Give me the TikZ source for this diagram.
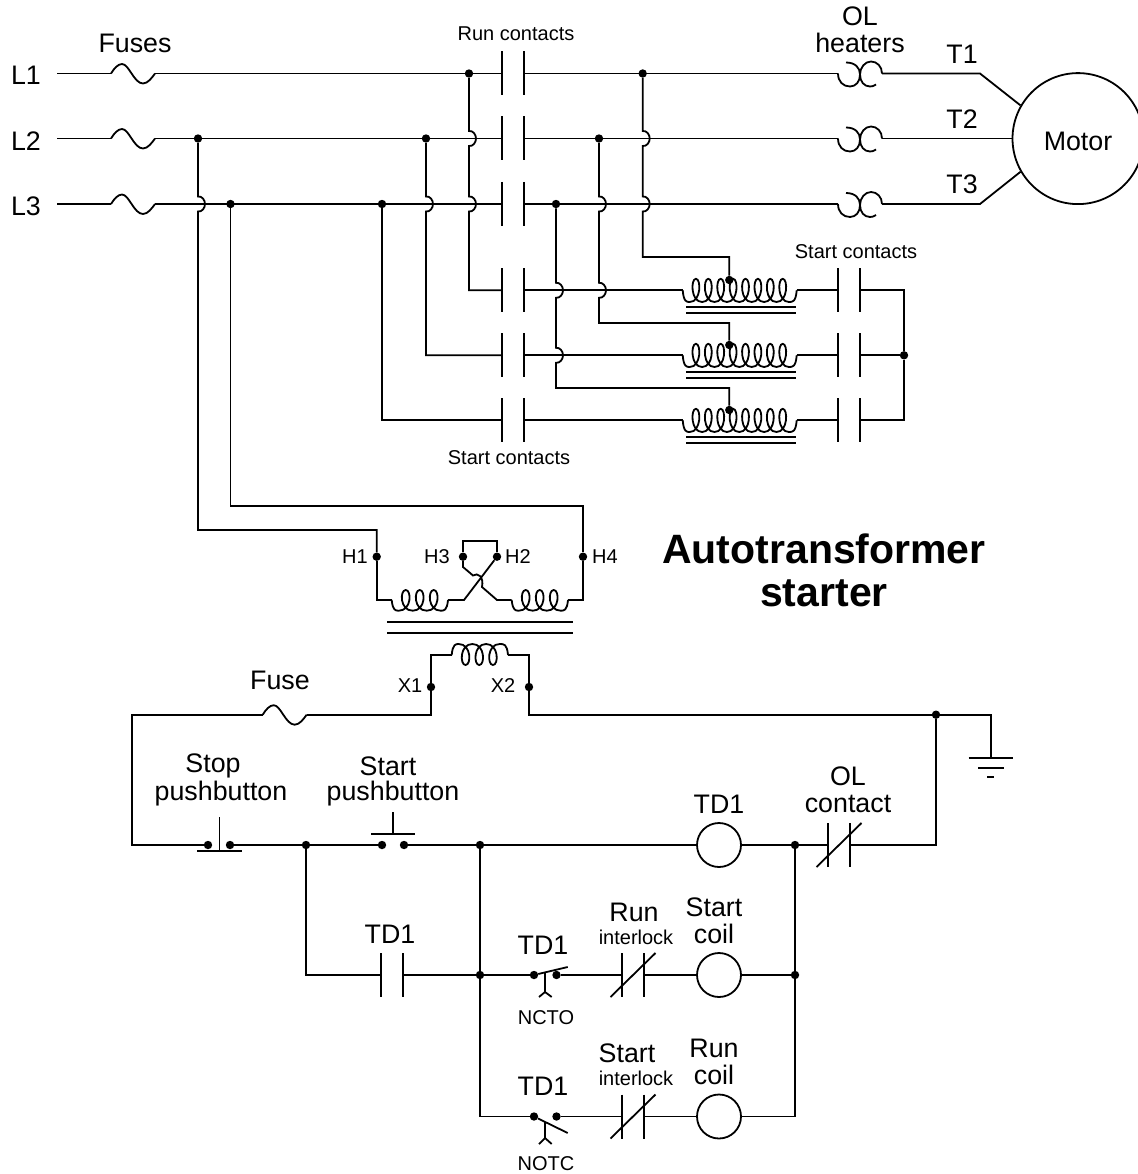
\documentclass[tikz,border=0pt]{standalone}
\usepackage{fontspec}
\setmainfont{Liberation Sans}
\usetikzlibrary{calc}
\tikzset{
	wire/.style={line width=1.8pt, line join=miter, black},
	dot/.style={circle, fill=black, inner sep=0pt, minimum size=8.4pt},
	lab/.style={inner sep=0pt, align=center, font=\fontsize{26.8}{26.5}\selectfont},
	smalllab/.style={inner sep=0pt, align=center, font=\fontsize{20}{22}\selectfont},
	coilc/.style={draw, line width=1.8pt, circle, inner sep=0pt, minimum size=44pt}
}
\def\hop(#1,#2){-- (#1,#2-7.5) .. controls (#1+4,#2-8) and (#1+7,#2-4) .. (#1+7,#2) .. controls (#1+7,#2+4) and (#1+4,#2+8) .. (#1,#2+7.5)}
\def\fuse#1(#2,#3){\coordinate (#1-l) at (#2,#3); \coordinate (#1-r) at (#2+44,#3);
	\draw[wire] (#2,#3) .. controls (#2+3,#3-5) and (#2+7,#3-9.5) .. (#2+11,#3-9.5) .. controls (#2+18,#3-9.5) and (#2+23,#3+10) .. (#2+32,#3+10) .. controls (#2+37,#3+10) and (#2+41,#3+4) .. (#2+44,#3);}
\def\contact#1(#2,#3){\coordinate (#1-l) at (#2,#3); \coordinate (#1-r) at (#2+22,#3);
	\draw[wire] (#2,#3-22) -- (#2,#3+22);
	\draw[wire] (#2+22,#3-22) -- (#2+22,#3+22);}
\def\nccontact#1(#2,#3){\contact#1(#2,#3)
	\draw[wire] (#2-11.5,#3+22) -- (#2+33.5,#3-22);}
\def\heater#1(#2,#3){\coordinate (#1-l) at (#2,#3); \coordinate (#1-r) at (#2+44,#3);
	\draw[wire] (#2,#3) .. controls (#2,#3+8) and (#2+5,#3+13) .. (#2+12,#3+13) .. controls (#2+18,#3+13) and (#2+22,#3+8) .. (#2+22,#3+1) .. controls (#2+22,#3-6) and (#2+17,#3-11) .. (#2+8,#3-11);
	\draw[wire] (#2+38,#3+11) .. controls (#2+36,#3+12.5) and (#2+34,#3+13) .. (#2+32,#3+13) .. controls (#2+26,#3+13) and (#2+22,#3+8) .. (#2+22,#3+1) .. controls (#2+22,#3-6) and (#2+27,#3-12) .. (#2+33,#3-12) .. controls (#2+39,#3-12) and (#2+44,#3-7) .. (#2+44,#3);}
% name, x start, x end, y, turns, pitch, y of bottom, y of top
\def\winding#1#2#3#4#5#6#7#8{\coordinate (#1-l) at (#2,#4); \coordinate (#1-r) at (#3,#4);
	\draw[wire] (#2,#4) .. controls (#2+1,#7) and (#2+4,#7) .. (#2+7,#7)
		\foreach \i in {1,...,#5} {
			.. controls (#2+7+\i*#6-0.07*#6,#7) and (#2+7+\i*#6-0.07*#6,#8) .. (#2+7+\i*#6-0.5*#6,#8)
			.. controls (#2+7+\i*#6-0.93*#6,#8) and (#2+7+\i*#6-0.93*#6,#7) .. (#2+7+\i*#6,#7)
		}
		.. controls (#3-4,#7) and (#3-1,#7) .. (#3,#4);}
\def\tapcoil#1(#2,#3){\winding{#1}{#2}{#2+114}{#3}{8}{12.4}{#3+11.7}{#3-11.5}
	\draw[wire] (#2+3.5,#3+17) -- (#2+113.5,#3+17);
	\draw[wire] (#2+3.5,#3+22.5) -- (#2+113.5,#3+22.5);}

\begin{document}
\begin{tikzpicture}[x=1pt,y=-1pt]
	%%%%% START %%%%%
	\useasboundingbox (0,0) rectangle (1137,1174);
	
	\node[lab] (tl1) at (26,75) {L1};
	\node[lab] (tl2) at (26,141) {L2};
	\node[lab] (tl3) at (26,206) {L3};
	\node[lab] (tfuses) at (135,43) {Fuses};
	\node[smalllab] (trun) at (516,34) {Run contacts};
	\node[lab] (theat) at (860,30) {OL\\heaters};
	\node[lab] (tt1) at (962,54) {T1};
	\node[lab] (tt2) at (962,119) {T2};
	\node[lab] (tt3) at (962,184) {T3};
	\node[smalllab] (tst1) at (856,252) {Start contacts};
	\node[smalllab] (tst2) at (509,458) {Start contacts};
	\node[smalllab] (th1) at (355,557) {H1};
	\node[smalllab] (th3) at (437,557) {H3};
	\node[smalllab] (th2) at (518,557) {H2};
	\node[smalllab] (th4) at (605,557) {H4};
	\node[smalllab] (tx1) at (410,686) {X1};
	\node[smalllab] (tx2) at (503,686) {X2};
	\node[inner sep=0pt, align=center, font=\fontsize{41}{43}\selectfont\bfseries] (ttitle) at (824,570) {Autotransformer\\starter};
	\node[lab] (tfuse) at (280,680) {Fuse};
	\node[lab] (tstop) at (213,766) {Stop};
	\node[lab] (tstopb) at (221,794) {pushbutton};
	\node[lab] (tstart) at (388,766) {Start};
	\node[lab] (tstartb) at (393,794) {pushbutton};
	\node[lab] (ttd1) at (719,804) {TD1};
	\node[lab] (tolc) at (848,790) {OL\\contact};
	\node[lab] (ttd2) at (390,934) {TD1};
	\node[lab] (ttd3) at (543,945) {TD1};
	\node[lab] (ttd4) at (543,1086) {TD1};
	\node[lab] (trun2) at (634,912) {Run};
	\node[smalllab] (til1) at (636,937) {interlock};
	\node[lab] (tstc) at (714,921) {Start\\coil};
	\node[lab] (tstart2) at (627,1053) {Start};
	\node[smalllab] (til2) at (636,1078) {interlock};
	\node[lab] (truc) at (714,1062) {Run\\coil};
	\node[smalllab] (tncto) at (546,1018) {NCTO};
	\node[smalllab] (tnotc) at (546,1164) {NOTC};
	
	\node[draw, line width=1.8pt, circle, inner sep=0pt, minimum size=131pt] (motor) at (1078,138.6) {};
	\node[lab] (tmotor) at (1078,141) {Motor};
	
	\node[dot] (ja) at (469,73.5) {};
	\node[dot] (jd) at (642.7,73.5) {};
	\node[dot] (jg) at (198,138.5) {};
	\node[dot] (jb) at (426,138.5) {};
	\node[dot] (je) at (599,138.5) {};
	\node[dot] (jh) at (230.5,204) {};
	\node[dot] (jc) at (382,204) {};
	\node[dot] (jf) at (556,204) {};
	\node[dot] (tap1) at (729.3,280) {};
	\node[dot] (tap2) at (729.3,345) {};
	\node[dot] (tap3) at (729.3,410) {};
	\node[dot] (jstar) at (904,355.3) {};
	\node[dot] (h1) at (376.7,556.7) {};
	\node[dot] (h3) at (463,556.7) {};
	\node[dot] (h2) at (497,556.7) {};
	\node[dot] (h4) at (583,556.7) {};
	\node[dot] (x1) at (431,687) {};
	\node[dot] (x2) at (529,687) {};
	\node[dot] (jgnd) at (936,714.7) {};
	\node[dot] (stopa) at (208,845) {};
	\node[dot] (stopb) at (230,845) {};
	\node[dot] (jr) at (306,845) {};
	\node[dot] (starta) at (382,845) {};
	\node[dot] (startb) at (404,845) {};
	\node[dot] (js) at (480,845) {};
	\node[dot] (jt) at (795,845) {};
	\node[dot] (ju) at (480,975) {};
	\node[dot] (jv) at (795,975) {};
	\node[dot] (ncta) at (534,975) {};
	\node[dot] (nctb) at (556.5,975) {};
	\node[dot] (nota) at (534,1116.5) {};
	\node[dot] (notb) at (556.5,1116.5) {};
	
	\node[coilc] (td1) at (719,845) {};
	\node[coilc] (stc) at (719,975) {};
	\node[coilc] (ruc) at (719,1116.5) {};
	
	\coordinate (in1) at (57,73.5);
	\coordinate (in2) at (57,138.5);
	\coordinate (in3) at (57,204);
	\coordinate (k1) at (980,73.5);
	\coordinate (k3) at (980,204);
	\coordinate (kl1) at (132,714.7);
	\coordinate (kl2) at (132,845);
	\coordinate (gnd) at (990.7,758);
	
	\fuse{fu1}(111,73.5)
	\fuse{fu2}(111,138.5)
	\fuse{fu3}(111,204)
	\fuse{fu4}(262.7,714.7)
	
	\contact{run1}(502,73.5)
	\contact{run2}(502,138.5)
	\contact{run3}(502,204)
	\contact{st1}(502,290.3)
	\contact{st2}(502,355.3)
	\contact{st3}(502,420.3)
	\contact{sr1}(838,290.3)
	\contact{sr2}(838,355.3)
	\contact{sr3}(838,420.3)
	\contact{tdc}(381,975)
	\nccontact{olc}(828,845)
	\nccontact{il1}(622,975)
	\nccontact{il2}(622,1116.5)
	
	\heater{ol1}(838,73.5)
	\heater{ol2}(838,138.5)
	\heater{ol3}(838,204)
	
	\tapcoil{ta1}(682.7,290.3)
	\tapcoil{ta2}(682.7,355.3)
	\tapcoil{ta3}(682.7,420.3)
	
	\winding{pa}{391.7}{448}{600}{3}{14}{610.7}{590}
	\winding{pb}{511.7}{568}{600}{3}{14}{610.7}{590}
	\winding{sc}{451.7}{508}{655}{3}{13.7}{644}{665}
	\draw[wire] (387,622.3) -- (573,622.3);
	\draw[wire] (387,633) -- (573,633);
	
	\draw[wire] (in1) -- (fu1-l);
	\draw[wire] (in2) -- (fu2-l);
	\draw[wire] (in3) -- (fu3-l);
	\draw[wire] (fu1-r) -- (run1-l);
	\draw[wire] (fu2-r) -- (run2-l);
	\draw[wire] (fu3-r) -- (run3-l);
	\draw[wire] (run1-r) -- (ol1-l);
	\draw[wire] (run2-r) -- (ol2-l);
	\draw[wire] (run3-r) -- (ol3-l);
	\draw[wire] (ol1-r) -- (k1) -- (motor.150);
	\draw[wire] (ol2-r) -- (motor.west |- ol2-r);
	\draw[wire] (ol3-r) -- (k3) -- (motor.210);
	
	\draw[wire] (ja) \hop(469,138.5) \hop(469,204) |- (st1-l);
	\draw[wire] (jb) \hop(426,204) |- (st2-l);
	\draw[wire] (jc) |- (st3-l);
	\draw[wire] (jd) \hop(642.7,138.5) \hop(642.7,204) -- (642.7,257) -| (tap1);
	\draw[wire] (je) \hop(599,204) \hop(599,290.3) -- (599,323) -| (tap2);
	\draw[wire] (jf) \hop(556,290.3) \hop(556,355.3) -- (556,388) -| (tap3);
	
	\draw[wire] (st1-r) -- (ta1-l);
	\draw[wire] (st2-r) -- (ta2-l);
	\draw[wire] (st3-r) -- (ta3-l);
	\draw[wire] (ta1-r) -- (sr1-l);
	\draw[wire] (ta2-r) -- (sr2-l);
	\draw[wire] (ta3-r) -- (sr3-l);
	\draw[wire] (sr1-r) -| (jstar);
	\draw[wire] (sr2-r) -- (jstar);
	\draw[wire] (sr3-r) -| (jstar);
	
	\draw[wire] (jg) \hop(198,204) -- (198,530) -| (h1);
	\draw[wire] (jh) -- (230.5,506) -| (h4);
	\draw[wire] (h1) |- (pa-l);
	\draw[wire] (h4) |- (pb-r);
	\draw[wire] (pa-r) -- (464,600) -- (h2);
	\draw[wire] (h2) -- (497,541) -- (463,541) -- (h3);
	\draw[wire] (h3) -- (463,567) -- (473,575.5) .. controls (478,572) and (484,577) .. (482,587) -- (497,600) -- (pb-l);
	
	\draw[wire] (x1) |- (sc-l);
	\draw[wire] (x2) |- (sc-r);
	\draw[wire] (x1) |- (fu4-r);
	\draw[wire] (fu4-l) -- (kl1) -- (kl2) -- (stopa);
	\draw[wire] (x2) |- (jgnd);
	\draw[wire] (jgnd) -| (gnd);
	\draw[wire] (968.5,758) -- (1013,758);
	\draw[wire] (978,767.7) -- (1004,767.7);
	\draw[wire] (987,777) -- (994,777);
	
	\draw[wire] (stopb) -- (jr) -- (starta);
	\draw[wire] (startb) -- (js) -- (td1.west);
	\draw[wire] (td1.east) -- (jt) -- (olc-l);
	\draw[wire] (olc-r) -| (jgnd);
	\draw[wire] (jr) |- (tdc-l);
	\draw[wire] (tdc-r) -- (ju);
	\draw[wire] (ju) -- (ncta);
	\draw[wire] (nctb) -- (il1-l);
	\draw[wire] (il1-r) -- (stc.west);
	\draw[wire] (stc.east) -- (jv);
	\draw[wire] (js) -- (ju) |- (nota);
	\draw[wire] (notb) -- (il2-l);
	\draw[wire] (il2-r) -- (ruc.west);
	\draw[wire] (ruc.east) -| (jv);
	\draw[wire] (jt) -- (jv);
	
	\draw[wire] (197,850.7) -- (241.7,850.7);
	\draw[wire] (219.5,817) -- (219.5,850.7);
	\draw[wire] (371,834) -- (415,834);
	\draw[wire] (393,812) -- (393,834);
	
	\draw[wire] (ncta) -- (567.7,967);
	\draw[wire] (545,972) -- (545,992);
	\draw[wire] (539,997) -- (545,992) -- (551.7,997);
	\draw[wire] (nota) -- (567.7,1133);
	\draw[wire] (545,1122) -- (545,1138);
	\draw[wire] (539,1144) -- (545,1138) -- (551.7,1144);
	%%%%% END %%%%%
\end{tikzpicture}
\end{document}
